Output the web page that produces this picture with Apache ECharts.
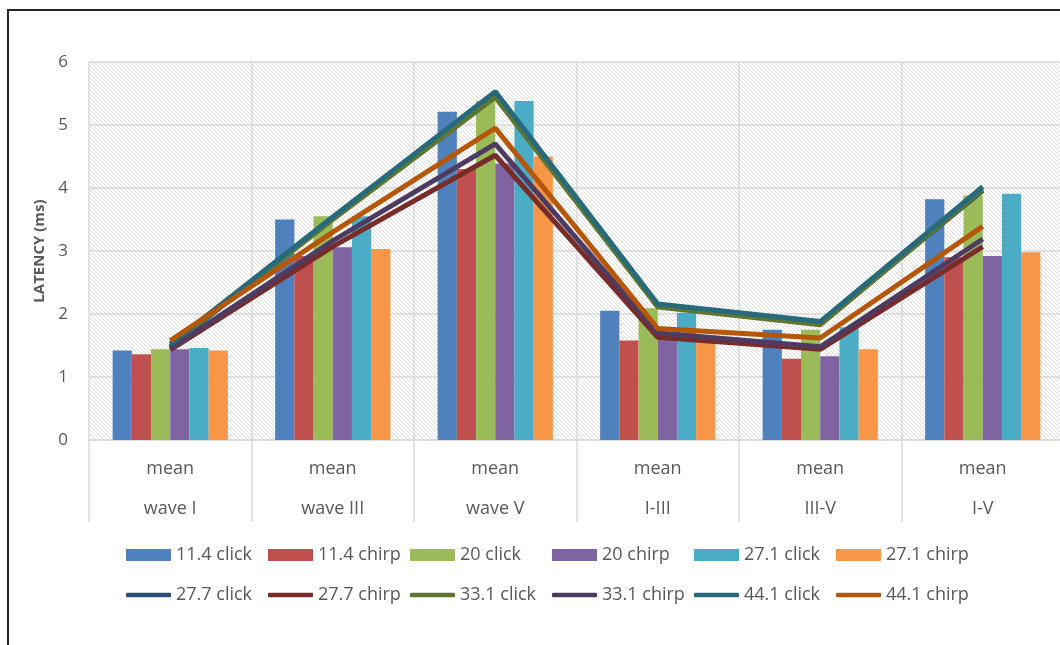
<!DOCTYPE html>
<html lang="en">
<head>
    <meta charset="UTF-8">
    <title>Latency</title>
    <script src="https://cdn.jsdelivr.net/npm/echarts@6/dist/echarts.min.js"></script>
    <style>
        html, body { margin: 0; padding: 0; background: #fff; overflow: hidden; }
        /* the plot runs a little past the right edge of the picture */
        #chart { width: 1072px; height: 645px; }
    </style>
</head>
<body>
<div id="chart"></div>

<script type="text/javascript">
    // categories on the x axis
    var categories = ['wave I', 'wave III', 'wave V', 'I-III', 'III-V', 'I-V'];
    var statLabel = 'mean';
    var yTicks = [0, 1, 2, 3, 4, 5, 6];

    // bar series
    var barNames = ['11.4 click', '11.4 chirp', '20 click', '20 chirp', '27.1 click', '27.1 chirp'];
    var click114 = [1.42, 3.50, 5.21, 2.05, 1.75, 3.82];
    var chirp114 = [1.36, 2.92, 4.30, 1.58, 1.29, 2.90];
    var click20  = [1.44, 3.55, 5.38, 2.09, 1.75, 3.88];
    var chirp20  = [1.44, 3.06, 4.39, 1.60, 1.33, 2.92];
    var click271 = [1.46, 3.55, 5.38, 2.02, 1.79, 3.91];
    var chirp271 = [1.42, 3.03, 4.50, 1.56, 1.44, 2.98];

    // line series
    var lineNames = ['27.7 click', '27.7 chirp', '33.1 click', '33.1 chirp', '44.1 click', '44.1 chirp'];
    var click277 = [1.47, 3.52, 5.47, 2.13, 1.85, 3.96];
    var chirp277 = [1.43, 3.07, 4.52, 1.63, 1.44, 3.07];
    var click331 = [1.49, 3.50, 5.44, 2.11, 1.83, 3.98];
    var chirp331 = [1.45, 3.16, 4.70, 1.70, 1.48, 3.19];
    var click441 = [1.52, 3.54, 5.53, 2.16, 1.88, 4.02];
    var chirp441 = [1.58, 3.30, 4.95, 1.77, 1.62, 3.39];

    var barData = [click114, chirp114, click20, chirp20, click271, chirp271];
    var lineData = [click277, chirp277, click331, chirp331, click441, chirp441];
    var barColors = ['#4f81bd', '#c0504d', '#9bbb59', '#8064a2', '#4bacc6', '#f79646'];
    var lineColors = ['#2c4d75', '#772c2a', '#5f7530', '#4d3b62', '#276a7c', '#b65708'];

    var FONT = 'Open Sans';
    var TXT = '#595959';
    var GRID = '#d9d9d9';

    // hatched plot background
    var tile = document.createElement('canvas');
    tile.width = 4; tile.height = 4;
    var c = tile.getContext('2d');
    c.fillStyle = '#ffffff';
    c.fillRect(0, 0, 4, 4);
    c.strokeStyle = '#dcdcdc';
    c.lineWidth = 1;
    c.beginPath();
    c.moveTo(-1, -1); c.lineTo(5, 5);
    c.moveTo(-1, 3); c.lineTo(1, 5);
    c.moveTo(3, -1); c.lineTo(5, 1);
    c.stroke();

    var myChart = echarts.init(document.getElementById('chart'), null, {renderer: 'canvas'});

    var series = [];
    barNames.forEach(function (name, i) {
        series.push({
            name: name,
            type: 'bar',
            data: barData[i],
            barWidth: 19.2,
            barGap: '0%',
            itemStyle: {color: barColors[i]}
        });
    });
    lineNames.forEach(function (name, i) {
        series.push({
            name: name,
            type: 'line',
            data: lineData[i],
            symbol: 'none',
            lineStyle: {width: 5, color: lineColors[i]},
            itemStyle: {color: lineColors[i]},
            z: 3
        });
    });

    // one legend per item so the columns line up like the original
    var legends = [];
    function addLegendRow(names, top, icon, h) {
        names.forEach(function (name, i) {
            legends.push({
                left: 126 + 142 * i,
                top: top,
                padding: 0,
                data: [name],
                icon: icon,
                itemWidth: 45,
                itemHeight: h,
                itemStyle: {borderWidth: 0},
                textStyle: {fontFamily: FONT, fontSize: 18, color: TXT}
            });
        });
    }
    addLegendRow(barNames, 546, 'rect', 12);
    addLegendRow(lineNames, 586, 'roundRect', 4.5);

    var option = {
        animation: false,
        backgroundColor: '#ffffff',
        textStyle: {fontFamily: FONT},
        graphic: [{
            type: 'rect',
            shape: {x: 8, y: 10, width: 1200, height: 800},
            style: {fill: 'none', stroke: '#262626', lineWidth: 2},
            silent: true
        }],
        grid: {
            left: 89, top: 62, width: 975, height: 378,
            show: true,
            borderWidth: 0,
            backgroundColor: {image: tile, repeat: 'repeat'}
        },
        legend: legends,
        xAxis: {
            type: 'category',
            data: categories,
            axisLine: {show: true, lineStyle: {color: GRID, width: 1.5}},
            axisTick: {show: true, interval: 0, length: 82, lineStyle: {color: GRID, width: 1.5}},
            splitLine: {show: true, interval: 0, lineStyle: {color: GRID, width: 1.5}},
            axisLabel: {
                interval: 0,
                margin: 9,
                fontFamily: FONT,
                fontSize: 18,
                color: TXT,
                lineHeight: 40,
                formatter: function (v) { return statLabel + '\n' + v; }
            }
        },
        yAxis: {
            type: 'value',
            min: yTicks[0],
            max: yTicks[yTicks.length - 1],
            interval: 1,
            name: 'LATENCY (ms)',
            nameLocation: 'middle',
            nameRotate: 90,
            nameGap: 42,
            nameTextStyle: {fontFamily: FONT, fontSize: 15, fontWeight: 'bold', color: TXT},
            axisLine: {show: false},
            axisTick: {show: false},
            splitLine: {show: true, lineStyle: {color: GRID, width: 1.5}},
            axisLabel: {margin: 21, fontFamily: FONT, fontSize: 17, color: TXT}
        },
        series: series
    };

    myChart.setOption(option);
</script>
</body>
</html>
